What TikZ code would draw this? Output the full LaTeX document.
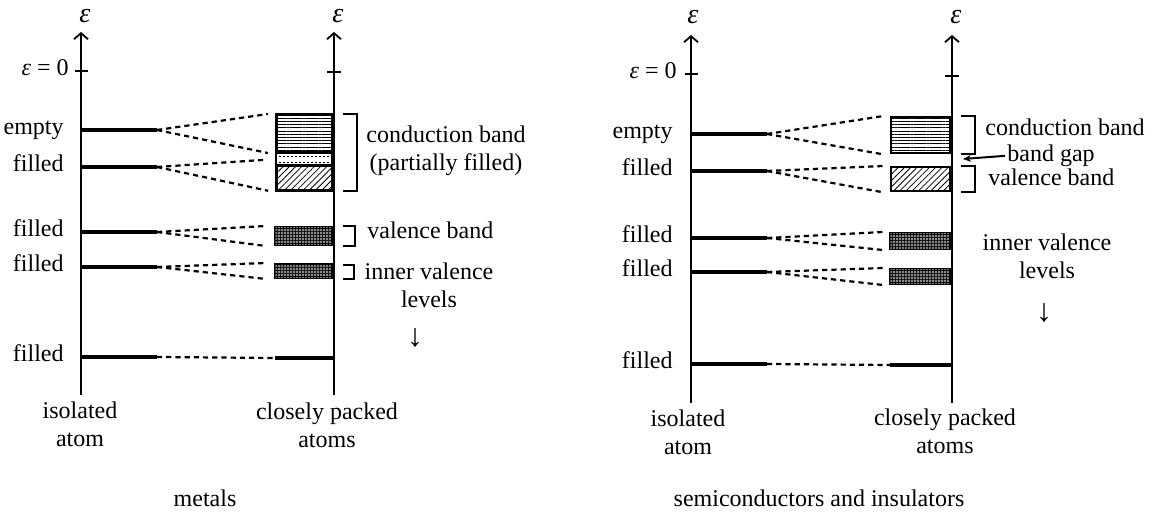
\documentclass[tikz,border=0pt]{standalone}
\usepackage{fontspec}
\setmainfont{Liberation Serif}
\usetikzlibrary{arrows.meta,patterns.meta,positioning}

\begin{document}
\begin{tikzpicture}[x=0.5pt,y=-0.5pt,
        lbl/.style={font=\fontsize{12}{14}\selectfont,inner sep=0pt,align=center},
        eps/.style={font=\fontsize{14}{16}\selectfont\itshape,inner sep=0pt},
        down/.style={font=\fontsize{16}{18}\selectfont,inner sep=0pt},
        axis/.style={line width=1.1pt,-{Straight Barb[length=3pt,width=7pt,line width=0.9pt]}},
        tick/.style={line width=1.1pt},
        level/.style={line width=1.6pt},
        split/.style={line width=1.1pt,dash pattern=on 2.6pt off 2pt},
        band/.style={draw,line width=1.2pt,inner sep=0pt,minimum width=28pt,anchor=north east},
        hlines/.style={band,pattern={Lines[angle=0,distance=1.6pt,line width=0.5pt]}},
        hatch/.style={band,pattern={Lines[angle=45,distance=2.2pt,line width=0.4pt]}},
        dots/.style={band,line width=1.5pt,fill=black!90,postaction={pattern={Dots[distance=1.5pt,radius=0.4pt]},pattern color=white}},
        brace/.style={line width=0.9pt}
    ]
        \useasboundingbox (0,0) rectangle (1158,512);

        % metals
        \draw[axis] (81,395) -- (81,32);
        \draw[axis] (334,395) -- (334,32);
        \node[eps] (mEps1) at (85,16) {ε};
        \node[eps] (mEps2) at (338,16) {ε};
        \draw[tick] (75,71) -- (88,71);
        \draw[tick] (327,72) -- (341,72);
        \node[lbl,anchor=mid east] (mZero) at (69,71) {\textit{ε} = 0};

        \foreach \y/\n/\t in {130/mE/empty,167/mF1/filled,232/mF2/filled,267/mF3/filled,357/mF4/filled}{
            \draw[level] (81,\y) -- (157,\y) coordinate (\n);
            \node[lbl,anchor=mid east] (\n t) at (64,\y) {\t};
        }

        \node[hlines,minimum height=19pt] (mcbU) at (333,114) {};
        \node[band,minimum height=6.5pt] (mcbM) at (333,152) {};
        \node[hatch,minimum height=12.5pt] (mcbL) at (333,165) {};
        \draw[line width=0.5pt,dash pattern=on 1pt off 1pt] (mcbM.west) ++(0,-3) -- ++(56,0);
        \draw[line width=0.5pt,dash pattern=on 1pt off 1pt] (mcbM.west) ++(0,3) -- ++(56,0);
        \node[dots,minimum height=8.5pt] (mvb) at (333,226) {};
        \node[dots,minimum height=6.5pt] (miv) at (333,263) {};
        \draw[level] (275,358) coordinate (mB) -- (333,358);

        \draw[split] (mE) -- ([xshift=-4pt]mcbU.north west);
        \draw[split] (mE) -- ([xshift=-4pt]mcbU.south west);
        \draw[split] (mF1) -- ([xshift=-4pt]mcbM.west);
        \draw[split] (mF1) -- ([xshift=-4pt]mcbL.south west);
        \draw[split] (mF2) -- ([xshift=-4pt]mvb.north west);
        \draw[split] (mF2) -- ([xshift=-4pt]mvb.south west);
        \draw[split] (mF3) -- ([xshift=-4pt]miv.north west);
        \draw[split] (mF3) -- ([xshift=-4pt]miv.south west);
        \draw[split] (mF4) -- (mB);

        \draw[brace] ([xshift=5pt]mcbU.north east) -- ++(14,0) |- ([xshift=5pt]mcbL.south east);
        \draw[brace] ([xshift=5pt]mvb.north east) -- ++(12,0) |- ([xshift=5pt]mvb.south east);
        \draw[brace] ([xshift=5pt,yshift=-1pt]miv.north east) -- ++(11,0) |- ([xshift=5pt]miv.south east);

        \node[lbl] (mCond) at (446,151) {conduction band\\(partially filled)};
        \node[lbl,anchor=mid west] (mVal) at (367,234) {valence band};
        \node[lbl] (mInner) at (429,285) {inner valence\\levels};
        \node[down] (mDown) at (415,338) {↓};

        \node[lbl] (mIso) at (80,424) {isolated\\atom};
        \node[lbl] (mPack) at (327,425) {closely packed\\atoms};
        \node[lbl] (mTitle) at (205,498) {metals};

        % semiconductors and insulators
        \draw[axis] (691,403) -- (691,35);
        \draw[axis] (952,403) -- (952,35);
        \node[eps] (sEps1) at (693,17) {ε};
        \node[eps] (sEps2) at (956,17) {ε};
        \draw[tick] (685,74) -- (698,74);
        \draw[tick] (945,76) -- (959,76);
        \node[lbl,anchor=mid east] (sZero) at (677,74) {\textit{ε} = 0};

        \foreach \y/\n/\t in {134/sE/empty,171/sF1/filled,238/sF2/filled,272/sF3/filled,364/sF4/filled}{
            \draw[level] (691,\y) -- (767,\y) coordinate (\n);
            \node[lbl,anchor=mid east] (\n t) at (673,\y) {\t};
        }

        \node[hlines,minimum width=29.5pt,minimum height=18pt] (scb) at (951,116) {};
        \node[hatch,minimum width=29.5pt,minimum height=12pt] (svb) at (951,166) {};
        \node[dots,minimum width=29.5pt,minimum height=7.5pt] (siv1) at (951,232) {};
        \node[dots,minimum width=29.5pt,minimum height=7pt] (siv2) at (951,268) {};
        \draw[level] (890,365) coordinate (sB) -- (951,365);

        \draw[split] (sE) -- ([xshift=-3pt]scb.north west);
        \draw[split] (sE) -- ([xshift=-3pt]scb.south west);
        \draw[split] (sF1) -- ([xshift=-3pt]svb.north west);
        \draw[split] (sF1) -- ([xshift=-3pt]svb.south west);
        \draw[split] (sF2) -- ([xshift=-3pt]siv1.north west);
        \draw[split] (sF2) -- ([xshift=-3pt]siv1.south west);
        \draw[split] (sF3) -- ([xshift=-3pt]siv2.north west);
        \draw[split] (sF3) -- ([xshift=-3pt]siv2.south west);
        \draw[split] (sF4) -- (sB);

        \draw[brace] ([xshift=5pt]scb.north east) -- ++(14,0) |- ([xshift=5pt]scb.south east);
        \draw[brace] ([xshift=5pt]svb.north east) -- ++(14,0) |- ([xshift=5pt]svb.south east);

        \node[lbl,anchor=mid west] (sCond) at (985,131) {conduction band};
        \node[lbl,anchor=mid west] (sGap) at (1007,157) {band gap};
        \node[lbl,anchor=mid west] (sVal) at (988,181) {valence band};
        \coordinate (sGapEnd) at (963,159);
        \draw[line width=1pt,-{Stealth[length=4pt,width=3.5pt]}] ([xshift=-1pt]sGap.west) -- (sGapEnd);
        \node[lbl] (sInner) at (1047,256) {inner valence\\levels};
        \node[down] (sDown) at (1044,313) {↓};

        \node[lbl] (sIso) at (688,432) {isolated\\atom};
        \node[lbl] (sPack) at (945,431) {closely packed\\atoms};
        \node[lbl] (sTitle) at (819,498) {semiconductors and insulators};
    \end{tikzpicture}
\end{document}
